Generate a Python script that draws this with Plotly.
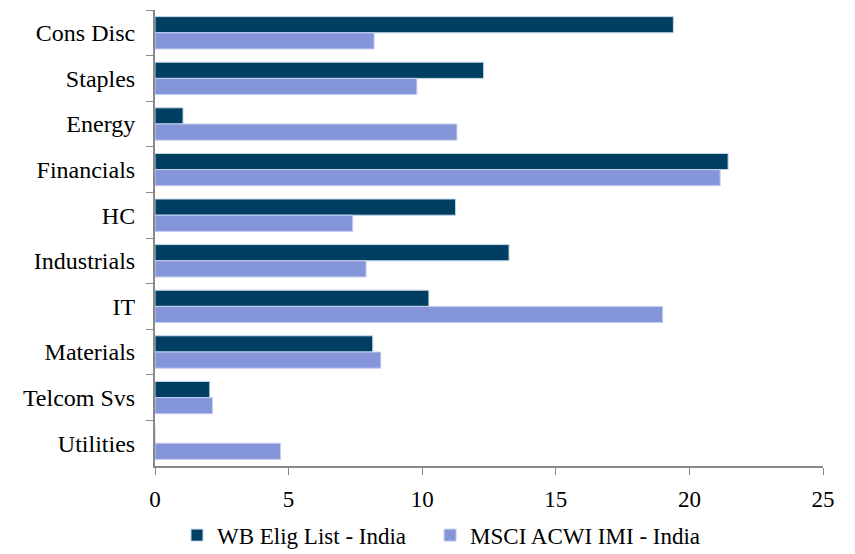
import plotly.graph_objects as go

sectors = ["Cons Disc", "Staples", "Energy", "Financials", "HC", "Industrials",
           "IT", "Materials", "Telcom Svs", "Utilities"]
wb_elig = [19.4, 12.3, 1.05, 21.45, 11.25, 13.25, 10.25, 8.15, 2.05, 0.0]
msci_imi = [8.2, 9.8, 11.3, 21.15, 7.4, 7.9, 19.0, 8.45, 2.15, 4.7]
x_ticks = [0, 5, 10, 15, 20, 25]

FONT = "Liberation Serif"
AXIS_GREY = "#898989"

fig = go.Figure()
fig.add_trace(go.Bar(
    y=sectors, x=wb_elig, orientation="h", name="WB Elig List - India",
    marker=dict(color="#003F62", line=dict(color="#C6D9EE", width=1)),
    legend="legend",
))
fig.add_trace(go.Bar(
    y=sectors, x=msci_imi, orientation="h", name="MSCI ACWI IMI - India",
    marker=dict(color="#8495D9", line=dict(color="#C6D0F0", width=1)),
    legend="legend2",
))

legend_style = dict(orientation="h", xref="container", yref="container",
                    xanchor="left", y=0.034, yanchor="middle",
                    font=dict(family=FONT, size=23), itemwidth=30)

fig.update_layout(
    width=855, height=554,
    margin=dict(l=155, r=32, t=10, b=88, autoexpand=False),
    paper_bgcolor="white", plot_bgcolor="white",
    barmode="group", bargap=0.29, bargroupgap=0.0,
    font=dict(family=FONT, size=23, color="black"),
    showlegend=True,
    legend=dict(x=0.207, **legend_style),
    legend2=dict(x=0.503, **legend_style),
)
fig.update_xaxes(
    range=[0, 25], tickvals=x_ticks, showgrid=False, zeroline=False,
    showline=True, linecolor=AXIS_GREY, linewidth=2,
    ticks="outside", ticklen=7, tickcolor=AXIS_GREY, tickwidth=1,
    ticklabelstandoff=4,
    tickfont=dict(family=FONT, size=23), fixedrange=True,
)
fig.update_yaxes(
    autorange="reversed", showgrid=False, zeroline=False,
    showline=True, linecolor=AXIS_GREY, linewidth=2,
    ticks="outside", ticklen=7, tickcolor=AXIS_GREY, tickwidth=1,
    tickson="boundaries", ticklabelstandoff=13,
    tickfont=dict(family=FONT, size=24),
)

fig.write_html("out.html")
